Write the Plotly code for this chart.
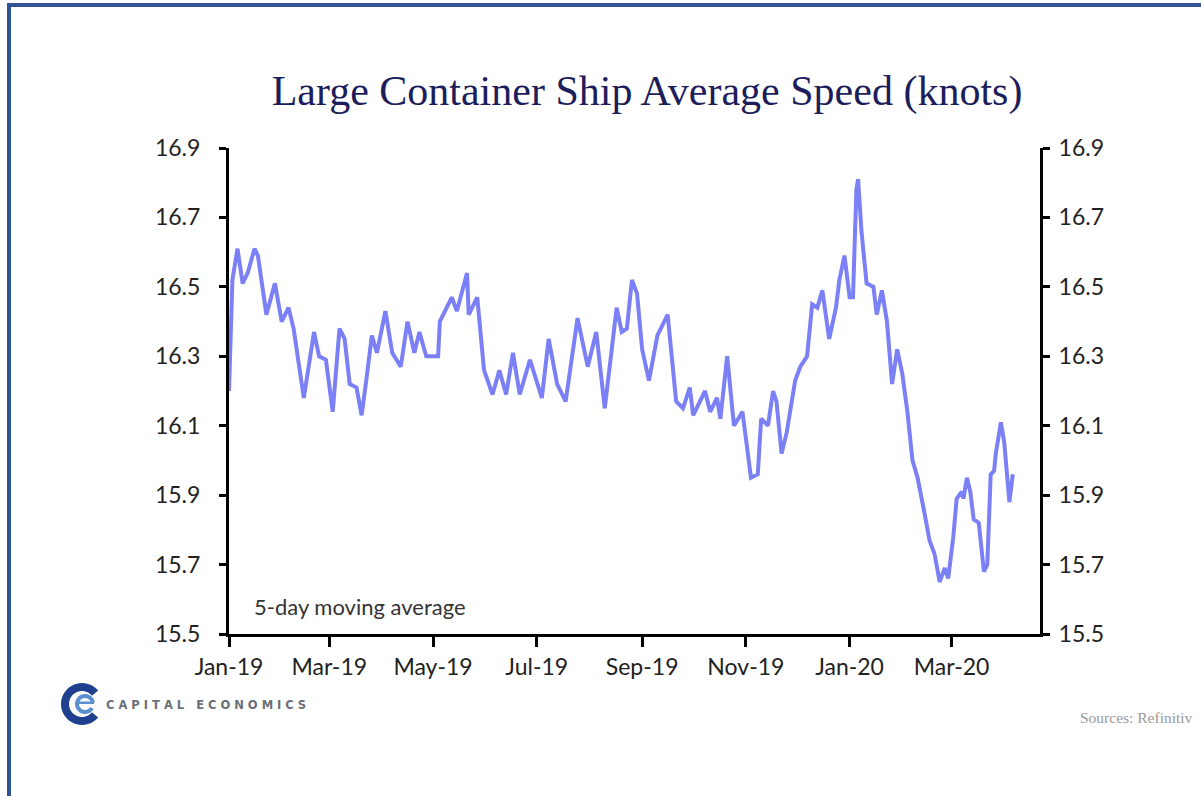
import numpy as np
import plotly.graph_objects as go

# Large container ship average speed, 5-day moving average (knots)
dates = [
    "2019-01-01", "2019-01-02", "2019-01-03", "2019-01-06", "2019-01-09", "2019-01-12",
    "2019-01-16", "2019-01-18", "2019-01-23", "2019-01-28", "2019-02-01", "2019-02-05",
    "2019-02-08", "2019-02-14", "2019-02-20", "2019-02-23", "2019-02-27", "2019-03-03",
    "2019-03-07", "2019-03-10", "2019-03-13", "2019-03-17", "2019-03-20", "2019-03-23",
    "2019-03-26", "2019-03-29", "2019-04-03", "2019-04-07", "2019-04-12", "2019-04-16",
    "2019-04-20", "2019-04-23", "2019-04-27", "2019-05-04", "2019-05-05", "2019-05-12",
    "2019-05-15", "2019-05-21", "2019-05-22", "2019-05-27", "2019-05-31", "2019-06-05",
    "2019-06-09", "2019-06-13", "2019-06-17", "2019-06-21", "2019-06-27", "2019-07-04",
    "2019-07-08", "2019-07-13", "2019-07-18", "2019-07-25", "2019-07-31", "2019-08-05",
    "2019-08-10", "2019-08-17", "2019-08-20", "2019-08-23", "2019-08-26", "2019-08-29",
    "2019-09-01", "2019-09-05", "2019-09-10", "2019-09-16", "2019-09-18", "2019-09-21",
    "2019-09-25", "2019-09-29", "2019-10-01", "2019-10-08", "2019-10-11", "2019-10-15",
    "2019-10-17", "2019-10-21", "2019-10-25", "2019-10-30", "2019-11-04", "2019-11-08",
    "2019-11-10", "2019-11-14", "2019-11-17", "2019-11-19", "2019-11-22", "2019-11-25",
    "2019-11-30", "2019-12-03", "2019-12-07", "2019-12-10", "2019-12-13", "2019-12-16",
    "2019-12-20", "2019-12-24", "2019-12-26", "2019-12-29", "2020-01-01", "2020-01-03",
    "2020-01-05", "2020-01-06", "2020-01-08", "2020-01-11", "2020-01-15", "2020-01-17",
    "2020-01-20", "2020-01-23", "2020-01-26", "2020-01-29", "2020-02-01", "2020-02-04",
    "2020-02-07", "2020-02-10", "2020-02-14", "2020-02-17", "2020-02-20", "2020-02-23",
    "2020-02-26", "2020-02-28", "2020-03-02", "2020-03-04", "2020-03-07", "2020-03-08",
    "2020-03-10", "2020-03-12", "2020-03-14", "2020-03-17", "2020-03-20", "2020-03-22",
    "2020-03-24", "2020-03-26", "2020-03-27", "2020-03-30", "2020-04-01", "2020-04-04",
    "2020-04-06",
]
speed = [
    16.20, 16.38, 16.52, 16.61, 16.51, 16.54,
    16.61, 16.59, 16.42, 16.51, 16.40, 16.44,
    16.38, 16.18, 16.37, 16.30, 16.29, 16.14,
    16.38, 16.35, 16.22, 16.21, 16.13, 16.24,
    16.36, 16.31, 16.43, 16.31, 16.27, 16.40,
    16.31, 16.37, 16.30, 16.30, 16.40, 16.47,
    16.43, 16.54, 16.42, 16.47, 16.26, 16.19,
    16.26, 16.19, 16.31, 16.19, 16.29, 16.18,
    16.35, 16.22, 16.17, 16.41, 16.27, 16.37,
    16.15, 16.44, 16.37, 16.38, 16.52, 16.48,
    16.32, 16.23, 16.36, 16.42, 16.31, 16.17,
    16.15, 16.21, 16.13, 16.20, 16.14, 16.18,
    16.12, 16.30, 16.10, 16.14, 15.95, 15.96,
    16.12, 16.10, 16.20, 16.17, 16.02, 16.08,
    16.23, 16.27, 16.30, 16.45, 16.44, 16.49,
    16.35, 16.44, 16.52, 16.59, 16.47, 16.47,
    16.78, 16.81, 16.66, 16.51, 16.50, 16.42,
    16.49, 16.40, 16.22, 16.32, 16.25, 16.14,
    16.00, 15.95, 15.85, 15.77, 15.73, 15.65,
    15.69, 15.66, 15.78, 15.89, 15.91, 15.89,
    15.95, 15.91, 15.83, 15.82, 15.68, 15.70,
    15.96, 15.97, 16.02, 16.11, 16.05, 15.88,
    15.96,
]

x_tick_dates = ["2019-01-01", "2019-03-01", "2019-05-01", "2019-07-01",
                "2019-09-01", "2019-11-01", "2020-01-01", "2020-03-01"]
x_tick_labels = ["Jan-19", "Mar-19", "May-19", "Jul-19",
                 "Sep-19", "Nov-19", "Jan-20", "Mar-20"]
y_ticks = [15.5, 15.7, 15.9, 16.1, 16.3, 16.5, 16.7, 16.9]

W, H = 1201, 796
ML, MR, MT, MB = 229, 161, 148, 162
PW, PH = W - ML - MR, H - MT - MB


def px_x(p):
    return (p - ML) / PW


def px_y(p):
    return (H - MB - p) / PH


LINE = "#7c80f6"
TICK_FONT = dict(family="Lato, 'Open Sans', sans-serif", size=23, color="#222222")

fig = go.Figure()
fig.add_trace(go.Scatter(x=dates, y=speed, mode="lines",
                         line=dict(color=LINE, width=4), showlegend=False,
                         hoverinfo="x+y"))
fig.add_trace(go.Scatter(x=dates, y=speed, mode="lines", yaxis="y2",
                         line=dict(color="rgba(0,0,0,0)", width=0),
                         showlegend=False, hoverinfo="skip"))

axis_common = dict(showgrid=False, zeroline=False, showline=True,
                   linecolor="black", linewidth=3, ticks="outside",
                   tickcolor="black", tickwidth=3, tickfont=TICK_FONT)

fig.update_layout(
    width=W, height=H,
    margin=dict(l=ML, r=MR, t=MT, b=MB),
    paper_bgcolor="white", plot_bgcolor="white",
    title=dict(text="Large Container Ship Average Speed (knots)",
               x=px_x(647), xref="paper", xanchor="center",
               y=1 - 90 / H, yanchor="middle",
               font=dict(family="'Liberation Serif', 'DejaVu Serif', serif",
                         size=42, color="#1d1d5c")),
    xaxis=dict(type="date", range=["2019-01-01", "2020-04-22"],
               tickvals=x_tick_dates, ticktext=x_tick_labels,
               ticklen=10, **axis_common),
    yaxis=dict(range=[15.5, 16.9], tickvals=y_ticks, tickformat=".1f",
               ticklen=7, ticklabelstandoff=14, **axis_common),
    yaxis2=dict(range=[15.5, 16.9], tickvals=y_ticks, tickformat=".1f",
                overlaying="y", side="right", ticklen=7,
                ticklabelstandoff=4, **axis_common),
)

# Series note inside the plot
fig.add_annotation(text="5-day moving average", xref="paper", yref="paper",
                   x=px_x(252), y=px_y(606), xanchor="left", yanchor="middle",
                   showarrow=False,
                   font=dict(family="Lato, 'Open Sans', sans-serif",
                             size=22, color="#333333"))

# Brand wordmark and source line
fig.add_annotation(text="C A P I T A L   E C O N O M I C S",
                   xref="paper", yref="paper", x=px_x(104), y=px_y(705),
                   xanchor="left", yanchor="middle", showarrow=False,
                   font=dict(family="'DejaVu Sans', sans-serif", size=11.5,
                             color="#6b6f78", weight="bold"))
fig.add_annotation(text="Sources: Refinitiv", xref="paper", yref="paper",
                   x=px_x(1078), y=px_y(717), xanchor="left",
                   yanchor="middle", showarrow=False,
                   font=dict(family="'Liberation Serif', serif", size=15.5,
                             color="#9a9a9a"))


def ring(r_out, r_in, a0, a1, n=40):
    a = np.linspace(np.radians(a0), np.radians(a1), n)
    outer = [(r_out * np.cos(t), r_out * np.sin(t)) for t in a]
    inner = [(r_in * np.cos(t), r_in * np.sin(t)) for t in a[::-1]]
    pts = outer + inner
    return "M " + " L ".join(f"{x:.2f},{y:.2f}" for x, y in pts) + " Z"


# Logo: outer "C" ring and inner "e"
logo_cx, logo_cy = px_x(82), px_y(704)
fig.add_shape(type="path", xref="paper", yref="paper",
              xsizemode="pixel", ysizemode="pixel",
              xanchor=logo_cx, yanchor=logo_cy,
              path=ring(21, 13, 40, 320), fillcolor="#1f3f8f",
              line=dict(width=0))
fig.add_shape(type="path", xref="paper", yref="paper",
              xsizemode="pixel", ysizemode="pixel",
              xanchor=logo_cx + 3 / PW, yanchor=logo_cy,
              path=ring(10, 6, 10, 330), fillcolor="#5a8fd0",
              line=dict(width=0))
fig.add_shape(type="path", xref="paper", yref="paper",
              xsizemode="pixel", ysizemode="pixel",
              xanchor=logo_cx + 3 / PW, yanchor=logo_cy,
              path="M -7,0 L 9,0 L 9,2.5 L -7,2.5 Z", fillcolor="#5a8fd0",
              line=dict(width=0))

# Outer frame
fig.add_shape(type="rect", xref="paper", yref="paper",
              x0=px_x(9), x1=px_x(1230), y0=px_y(830), y1=px_y(5),
              line=dict(color="#2f5597", width=4), fillcolor="rgba(0,0,0,0)",
              layer="below")

fig.write_html("out.html")
